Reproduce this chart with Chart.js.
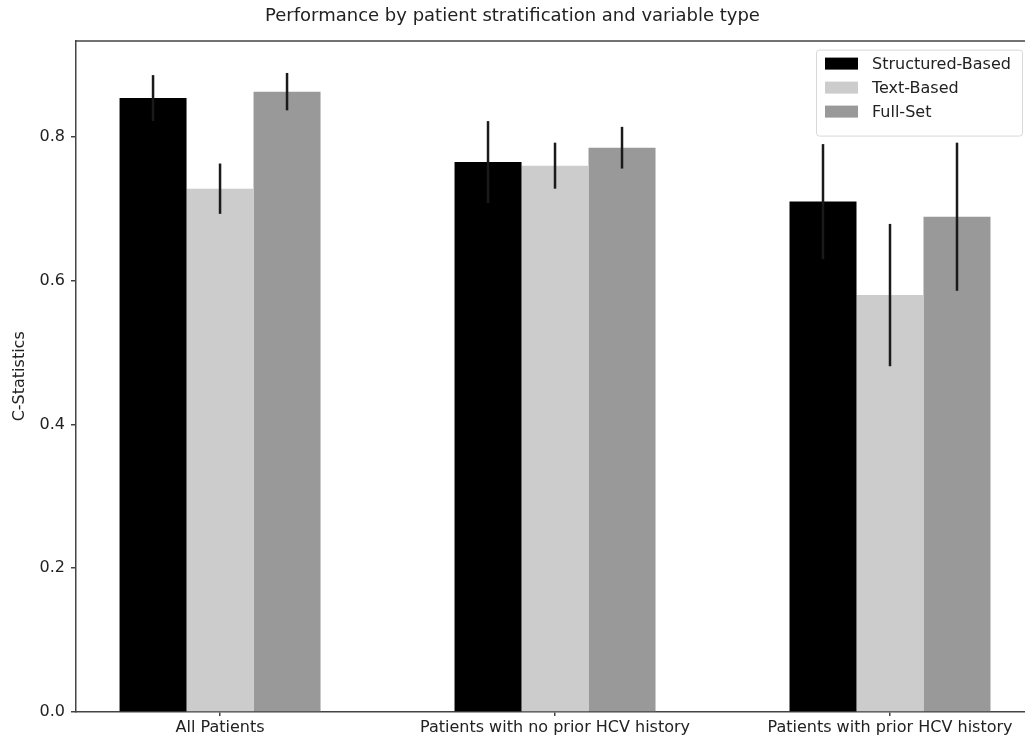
<!DOCTYPE html>
<html>
<head>
<meta charset="utf-8">
<script src="https://cdn.jsdelivr.net/npm/chart.js@4/dist/chart.umd.min.js"></script>
<style>
  html, body { margin: 0; padding: 0; background: #fff; overflow: hidden; }
  canvas { display: block; }
</style>
</head>
<body>
<canvas id="chart" width="1025" height="740"></canvas>
<script>
const categories = ['All Patients', 'Patients with no prior HCV history', 'Patients with prior HCV history'];
const seriesNames = ['Structured-Based', 'Text-Based', 'Full-Set'];
const structured = [0.854, 0.765, 0.710];
const structuredErr = [0.032, 0.057, 0.080];
const textBased = [0.728, 0.760, 0.580];
const textErr = [0.035, 0.032, 0.099];
const fullSet = [0.863, 0.785, 0.689];
const fullErr = [0.026, 0.029, 0.103];
const yTicks = [0.0, 0.2, 0.4, 0.6, 0.8];

const colors = ['#000000', '#cccccc', '#999999'];
const FONT = 'DejaVu Sans';

function points(vals) {
  return vals.map((v, i) => ({ x: i, y: v }));
}

const errors = [structuredErr, textErr, fullErr];

// draws the vertical error lines on top of bars
const errorBars = {
  id: 'errorBars',
  afterDatasetsDraw(chart) {
    const ctx = chart.ctx;
    const y = chart.scales.y;
    ctx.save();
    ctx.strokeStyle = '#1a1a1a';
    ctx.lineWidth = 2.5;
    chart.data.datasets.forEach((ds, di) => {
      const meta = chart.getDatasetMeta(di);
      meta.data.forEach((bar, i) => {
        const v = ds.data[i].y;
        const e = errors[di][i];
        ctx.beginPath();
        ctx.moveTo(bar.x, y.getPixelForValue(v + e));
        ctx.lineTo(bar.x, y.getPixelForValue(v - e));
        ctx.stroke();
      });
    });
    ctx.restore();
  }
};

// top spine + matplotlib-style legend box
const boxLegend = {
  id: 'boxLegend',
  afterDraw(chart) {
    const ctx = chart.ctx;
    const a = chart.chartArea;
    ctx.save();
    ctx.strokeStyle = '#444';
    ctx.lineWidth = 1.5;
    ctx.beginPath();
    ctx.moveTo(a.left, a.top + 0.5);
    ctx.lineTo(a.right, a.top + 0.5);
    ctx.stroke();

    const w = 206, h = 86;
    const bx = a.right - w - 3, by = a.top + 9;
    ctx.lineWidth = 1;
    ctx.fillStyle = 'rgba(255,255,255,0.8)';
    ctx.strokeStyle = '#d8d8d8';
    ctx.beginPath();
    ctx.roundRect(bx + 0.5, by + 0.5, w, h, 3);
    ctx.fill();
    ctx.stroke();

    ctx.font = '16px "' + FONT + '"';
    ctx.textBaseline = 'middle';
    chart.data.datasets.forEach((ds, i) => {
      const ry = by + 14 + i * 24;
      ctx.fillStyle = ds.backgroundColor;
      ctx.fillRect(bx + 9, ry - 6, 33, 12);
      ctx.fillStyle = '#222';
      ctx.fillText(ds.label, bx + 56, ry + 1);
    });
    ctx.restore();
  }
};

new Chart(document.getElementById('chart'), {
  type: 'bar',
  data: {
    datasets: [
      { label: seriesNames[0], data: points(structured), backgroundColor: colors[0] },
      { label: seriesNames[1], data: points(textBased), backgroundColor: colors[1] },
      { label: seriesNames[2], data: points(fullSet), backgroundColor: colors[2] }
    ]
  },
  plugins: [errorBars, boxLegend],
  options: {
    responsive: false,
    animation: false,
    categoryPercentage: 0.6,
    barPercentage: 1.0,
    borderWidth: 0,
    layout: { padding: { left: 0, right: 0, top: 0, bottom: 0 } },
    plugins: {
      legend: { display: false },
      tooltip: { enabled: false },
      title: {
        display: true,
        text: 'Performance by patient stratification and variable type',
        color: '#222',
        font: { family: FONT, size: 18, weight: 'normal' },
        padding: { top: 6, bottom: 13 }
      }
    },
    scales: {
      x: {
        type: 'linear',
        offset: false,
        min: -0.43,
        max: 2.403,
        afterBuildTicks: (axis) => {
          axis.ticks = categories.map((c, i) => ({ value: i }));
        },
        afterFit: (axis) => { axis.height = 28; },
        ticks: {
          color: '#222',
          font: { family: FONT, size: 16 },
          padding: 2,
          maxRotation: 0,
          autoSkip: false,
          callback: (v) => categories[v]
        },
        grid: { offset: false, drawOnChartArea: false, drawTicks: true, tickLength: 4, color: '#444', lineWidth: 1.5 },
        border: { display: true, color: '#444', width: 1.5 }
      },
      y: {
        min: 0,
        max: 0.934,
        afterBuildTicks: (axis) => {
          axis.ticks = yTicks.map(v => ({ value: v }));
        },
        afterFit: (axis) => { axis.width = 76; },
        ticks: {
          color: '#222',
          font: { family: FONT, size: 16 },
          padding: 6,
          callback: (v) => v.toFixed(1)
        },
        title: {
          display: true,
          text: 'C-Statistics',
          color: '#222',
          font: { family: FONT, size: 16 },
          padding: { top: 10, bottom: 4 }
        },
        grid: { drawOnChartArea: false, drawTicks: true, tickLength: 5, color: '#444', lineWidth: 1.5 },
        border: { display: true, color: '#444', width: 1.5 }
      }
    }
  }
});
</script>
</body>
</html>
